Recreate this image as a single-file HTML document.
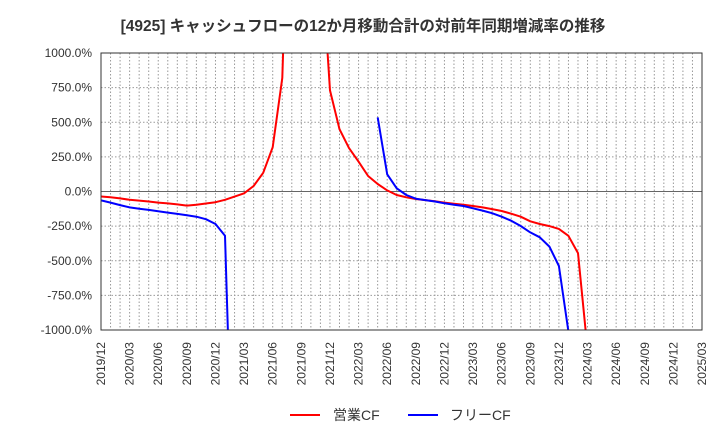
<!DOCTYPE html>
<html><head><meta charset="utf-8"><style>
html,body{margin:0;padding:0;background:#fff;overflow:hidden;width:720px;height:440px;font-family:"Liberation Sans","Noto Sans CJK JP",sans-serif}
svg{display:block}
</style></head><body>
<svg id="c" width="720" height="440" xmlns="http://www.w3.org/2000/svg">
<text x="363" y="31" text-anchor="middle" font-size="15.5" font-weight="bold" fill="#333" font-family="Liberation Sans, Noto Sans CJK JP, sans-serif">[4925]  キャッシュフローの12か月移動合計の対前年同期増減率の推移</text>
<defs><clipPath id="pc"><rect x="101" y="53" width="601" height="277"/></clipPath></defs>
<g id="grid"></g><g id="series" clip-path="url(#pc)"></g><g id="axes"></g>
<g>
<line x1="290" y1="415" x2="320" y2="415" stroke="#f00" stroke-width="2"/>
<text x="333" y="420" font-size="14" fill="#333" font-family="Liberation Sans, Noto Sans CJK JP, sans-serif">営業CF</text>
<line x1="408" y1="415" x2="438" y2="415" stroke="#00f" stroke-width="2"/>
<text x="450" y="420" font-size="14" fill="#333" font-family="Liberation Sans, Noto Sans CJK JP, sans-serif">フリーCF</text>
</g>
</svg>
<script>
const tickLabels=["2019/12","2020/03","2020/06","2020/09","2020/12","2021/03","2021/06","2021/09","2021/12","2022/03","2022/06","2022/09","2022/12","2023/03","2023/06","2023/09","2023/12","2024/03","2024/06","2024/09","2024/12","2025/03"];
const yTicks=[1000,750,500,250,0,-250,-500,-750,-1000];
const operatingCF=[-36,-42,-50,-60,-66,-72,-80,-86,-93,-102,-95,-87,-77,-60,-37,-13,40,135,320,820,3000,3000,3000,1800,730,450,313,215,112,54,8,-25,-42,-54,-62,-70,-80,-88,-96,-105,-115,-127,-141,-160,-182,-215,-235,-250,-270,-320,-445,-1140];
const freeCF=[-64,-80,-98,-115,-124,-133,-142,-152,-162,-172,-182,-200,-235,-320,-2600,null,null,null,null,null,null,null,null,null,null,null,null,null,null,535,124,23,-25,-52,-62,-72,-85,-95,-105,-121,-138,-157,-182,-211,-249,-295,-331,-398,-538,-1010];
const NS="http://www.w3.org/2000/svg";
const X0=101,X1=702,Y0=53,Y1=330,NM=63;
const xs=i=>X0+i*(X1-X0)/NM;
const ys=v=>Y1-(v+1000)*(Y1-Y0)/2000;
function mk(t,a,p){const e=document.createElementNS(NS,t);for(const k in a)e.setAttribute(k,a[k]);p.appendChild(e);return e;}
const grid=document.getElementById('grid'),axes=document.getElementById('axes'),ser=document.getElementById('series');
for(let i=1;i<NM;i++){const l=mk('line',{x1:xs(i),x2:xs(i),y1:Y0,y2:Y1,stroke:'#999','stroke-dasharray':'1.5,2','stroke-width':1},grid);

}
yTicks.forEach(v=>{const y=ys(v);
const l=mk('line',{x1:X0,x2:X1,y1:y,y2:y,stroke:v===0?'#666':'#999','stroke-dasharray':v===0?'':'1.5,2','stroke-width':1},grid);


const t=mk('text',{x:92,y:y+4,'text-anchor':'end','font-size':12,fill:'#333'},axes);t.textContent=v.toFixed(1)+'%';

});
tickLabels.forEach((s,k)=>{const x=xs(k*3);
const t=mk('text',{x:0,y:0,'text-anchor':'end','font-size':12,fill:'#333',transform:`translate(${x+4},${Y1+12}) rotate(-90)`},axes);t.textContent=s;

});
const fr=mk('rect',{x:X0,y:Y0,width:X1-X0,height:Y1-Y0,fill:'none',stroke:'#333','stroke-width':1},axes);


function draw(arr,col,name){let d='',pen=false;arr.forEach((v,i)=>{if(v===null){pen=false;return;}d+=(pen?'L':'M')+xs(i).toFixed(1)+','+ys(v).toFixed(1);pen=true;});
const p=mk('path',{d:d,fill:'none',stroke:col,'stroke-width':2,'stroke-linejoin':'round'},ser);

}
draw(operatingCF,'#f00','operating-cf-line');
draw(freeCF,'#00f','free-cf-line');
</script>
</body></html>
